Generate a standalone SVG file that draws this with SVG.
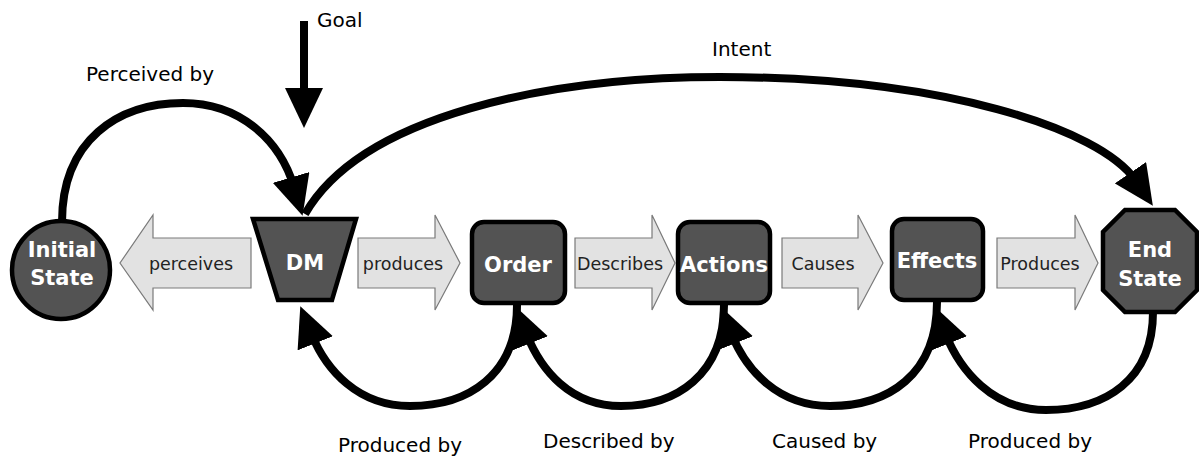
<svg xmlns="http://www.w3.org/2000/svg" width="1199" height="458" viewBox="0 0 1199 458">
  <style>
    .node { fill: #535353; stroke: #000; stroke-width: 4.5; }
    .nlabel { font-family: "DejaVu Sans", Verdana, sans-serif; font-weight: bold; font-size: 21px; fill: #fff; text-anchor: middle; }
    .flow { fill: #e2e2e2; stroke: #7a7a7a; stroke-width: 1.2; }
    .flabel { font-family: "DejaVu Sans", Verdana, sans-serif; font-size: 17.5px; fill: #222; text-anchor: middle; }
    .clabel { font-family: "DejaVu Sans", Verdana, sans-serif; font-size: 20px; fill: #000; }
    .conn { fill: none; stroke: #000; stroke-width: 8; }
  </style>
  <defs>
    <marker id="head" markerUnits="userSpaceOnUse" viewBox="0 0 40 38" markerWidth="40" markerHeight="38" refX="10" refY="19" orient="auto">
      <path d="M0,0 L40,19 L0,38 z" fill="#000"/>
    </marker>
  </defs>

  <!-- flow arrows between nodes -->
  <g id="flow-arrows">
    <g id="perceives">
      <polygon class="flow" points="251,238 153,238 153,215 120,263 153,310 153,288 251,288"/>
      <text class="flabel" x="191" y="270">perceives</text>
    </g>
    <g id="produces">
      <polygon class="flow" points="358,238 435,238 435,215 460,263 435,310 435,288 358,288"/>
      <text class="flabel" x="403" y="270">produces</text>
    </g>
    <g id="describes">
      <polygon class="flow" points="575,238 652,238 652,215 675,263 652,310 652,288 575,288"/>
      <text class="flabel" x="620" y="270">Describes</text>
    </g>
    <g id="causes">
      <polygon class="flow" points="782,238 858,238 858,215 883,263 858,310 858,288 782,288"/>
      <text class="flabel" x="823" y="270">Causes</text>
    </g>
    <g id="produces-end">
      <polygon class="flow" points="997,238 1075,238 1075,215 1098,263 1075,310 1075,288 997,288"/>
      <text class="flabel" x="1040" y="270">Produces</text>
    </g>
  </g>

  <!-- nodes -->
  <g id="initial-state">
    <circle class="node" cx="61" cy="270" r="49"/>
    <text class="nlabel" x="62" y="257">Initial</text>
    <text class="nlabel" x="62" y="285">State</text>
  </g>
  <g id="dm">
    <polygon class="node" points="253,219 356,219 332,300 278,300"/>
    <text class="nlabel" x="305" y="270">DM</text>
  </g>
  <g id="order">
    <rect class="node" x="472" y="222" width="93" height="81" rx="12"/>
    <text class="nlabel" x="518" y="272">Order</text>
  </g>
  <g id="actions">
    <rect class="node" x="678" y="222" width="92" height="81" rx="12"/>
    <text class="nlabel" x="724" y="272">Actions</text>
  </g>
  <g id="effects">
    <rect class="node" x="892" y="219" width="91" height="81" rx="12"/>
    <text class="nlabel" x="937" y="268">Effects</text>
  </g>
  <g id="end-state">
    <polygon class="node" points="1125,210 1175,210 1197,232 1197,290 1175,312 1125,312 1103,290 1103,232"/>
    <text class="nlabel" x="1150" y="257">End</text>
    <text class="nlabel" x="1150" y="286">State</text>
  </g>

  <!-- connectors -->
  <g id="connectors">
    <!-- Goal -->
    <path class="conn" d="M304,21 L304,98" marker-end="url(#head)"/>
    <!-- Perceived by -->
    <path class="conn" d="M62,222 C62,140 118,103 183,103 C240,103 280,140 294,187" marker-end="url(#head)"/>
    <!-- Intent -->
    <path class="conn" d="M305,214 C362,115 550,77 720,77 C940,77 1100,128 1136,181" marker-end="url(#head)"/>
    <!-- Produced by (Order to DM) -->
    <path class="conn" d="M517,305 C517,375 468,406 410,406 C358,406 326,370 311.5,334" marker-end="url(#head)"/>
    <!-- Described by (Actions to Order) -->
    <path class="conn" d="M724,305 C724,375 676,406 621,406 C570,406 541,370 526.5,334" marker-end="url(#head)"/>
    <!-- Caused by (Effects to Actions) -->
    <path class="conn" d="M937,302 C937,375 888,406 830,406 C778,406 746,370 731.5,334" marker-end="url(#head)"/>
    <!-- Produced by (End State to Effects) -->
    <path class="conn" d="M1153,312 C1153,380 1105,410 1046,410 C992,410 960,370 945.5,334" marker-end="url(#head)"/>
  </g>

  <!-- connector labels -->
  <g id="labels">
    <text class="clabel" x="317" y="27">Goal</text>
    <text class="clabel" x="86" y="81">Perceived by</text>
    <text class="clabel" x="712" y="56">Intent</text>
    <text class="clabel" x="338" y="452">Produced by</text>
    <text class="clabel" x="543" y="448">Described by</text>
    <text class="clabel" x="772" y="448">Caused by</text>
    <text class="clabel" x="968" y="448">Produced by</text>
  </g>
</svg>
